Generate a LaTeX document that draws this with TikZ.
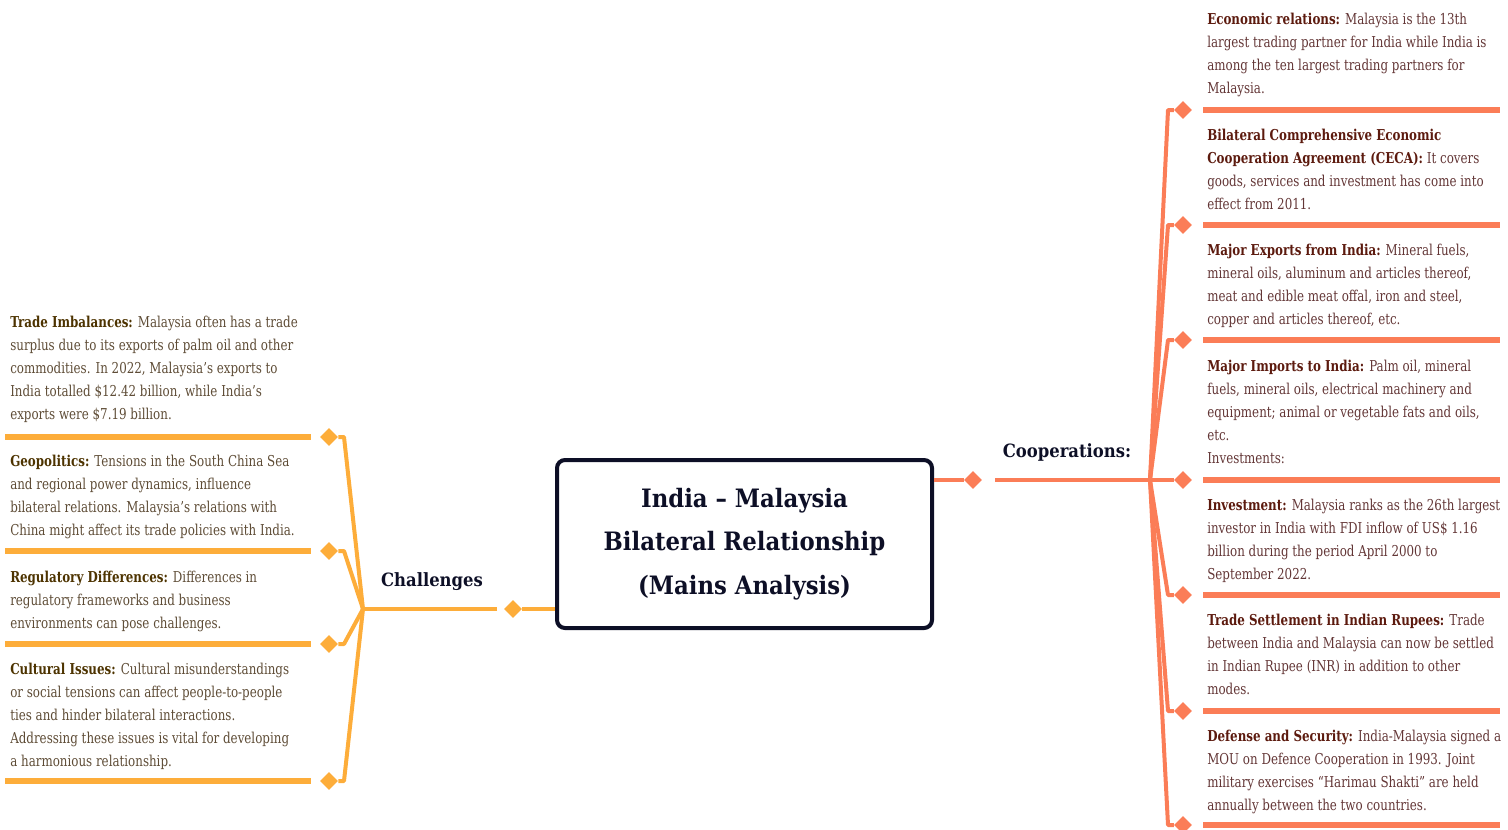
\documentclass[tikz,border=0pt]{standalone}
\usepackage{fontspec}
\usetikzlibrary{shapes.geometric}
\newfontfamily\bodyfont[FakeStretch=0.88]{DejaVu Serif Condensed}
\newfontfamily\titlefont{DejaVu Serif Condensed}
\definecolor{orangeL}{HTML}{FDAD3A}
\definecolor{coralR}{HTML}{FB7D57}
\definecolor{navy}{HTML}{0D0F26}
\definecolor{headL}{HTML}{4D3300}
\definecolor{bodyL}{HTML}{5E4C36}
\definecolor{headR}{HTML}{5C1A0E}
\definecolor{bodyR}{HTML}{633636}
\newcommand{\hdL}[1]{{\bfseries\color{headL}#1}}
\newcommand{\hdR}[1]{{\bfseries\color{headR}#1}}
\tikzset{
  txtL/.style={anchor=north west, inner sep=0pt, align=left, text=bodyL,
    font={\bodyfont\fontsize{11.25}{17.25}\selectfont}},
  txtR/.style={anchor=north west, inner sep=0pt, align=left, text=bodyR,
    font={\bodyfont\fontsize{11.25}{17.25}\selectfont}},
  dmL/.style={diamond, fill=orangeL, inner sep=0pt, minimum size=13.5pt},
  dmR/.style={diamond, fill=coralR, inner sep=0pt, minimum size=13.5pt},
  brL/.style={draw=orangeL, line width=3pt, line join=round},
  brR/.style={draw=coralR, line width=3pt, line join=round},
  ulL/.style={draw=orangeL, line width=4pt},
  ulR/.style={draw=coralR, line width=4pt},
  lbl/.style={inner sep=0pt, text=navy, font={\titlefont\bfseries\fontsize{13.7}{16}\selectfont}},
}
\begin{document}
\begin{tikzpicture}[x=0.75pt,y=-0.75pt]
\useasboundingbox (0,0) rectangle (1508,829);
% central box
\node[draw=navy, line width=3pt, rounded corners=6pt, minimum width=375*0.75pt, minimum height=168*0.75pt,
  inner sep=0pt, align=center, text=navy, font={\titlefont\bfseries\fontsize{19}{32.5}\selectfont}]
  (center) at (744.5,544) {India – Malaysia\\Bilateral Relationship\\(Mains Analysis)};

% ---------- left: Challenges ----------
\node[dmL] (dC) at (513,609) {};
\coordinate (cStart) at (497,609);
\coordinate (JL) at (363,609);
\draw[brL] (center.west |- dC) -- (dC);
\draw[brL] (cStart) -- (JL);
\node[lbl] (challenges) at (432,582) {Challenges};

\foreach \n/\y in {1/437,2/551,3/644,4/781}{
  \node[dmL] (dL\n) at (329,\y) {};
  \coordinate (bL\n) at (344,\y);
  \coordinate (uLa\n) at (5,\y);
  \coordinate (uLb\n) at (311,\y);
  \draw[brL] (JL) -- (bL\n) -- (dL\n.east);
  \draw[ulL] (uLa\n) -- (uLb\n);
}

\node[txtL] (tL1) at (10,316) {\hdL{Trade Imbalances:} Malaysia often has a trade\\surplus due to its exports of palm oil and other\\commodities. In 2022, Malaysia’s exports to\\India totalled \$12.42 billion, while India’s\\exports were \$7.19 billion.};
\node[txtL] (tL2) at (10,455) {\hdL{Geopolitics:} Tensions in the South China Sea\\and regional power dynamics, influence\\bilateral relations. Malaysia’s relations with\\China might affect its trade policies with India.};
\node[txtL] (tL3) at (10,571) {\hdL{Regulatory Differences:} Differences in\\regulatory frameworks and business\\environments can pose challenges.};
\node[txtL] (tL4) at (10,663) {\hdL{Cultural Issues:} Cultural misunderstandings\\or social tensions can affect people-to-people\\ties and hinder bilateral interactions.\\Addressing these issues is vital for developing\\a harmonious relationship.};

% ---------- right: Cooperations ----------
\node[dmR] (dK) at (973,480) {};
\coordinate (kStart) at (995,480);
\coordinate (JR) at (1150,480);
\draw[brR] (center.east |- dK) -- (dK);
\draw[brR] (kStart) -- (JR);
\node[lbl] (coop) at (1067,452) {Cooperations:};

\foreach \n/\y in {1/110,2/225,3/340,4/480,5/595,6/711,7/825}{
  \node[dmR] (dR\n) at (1183,\y) {};
  \coordinate (bR\n) at (1168,\y);
  \coordinate (uRa\n) at (1203,\y);
  \coordinate (uRb\n) at (1500,\y);
  \draw[brR] (JR) -- (bR\n) -- (dR\n.west);
  \draw[ulR] (uRa\n) -- (uRb\n);
}

\node[txtR] (tR1) at (1207,13) {\hdR{Economic relations:} Malaysia is the 13th\\largest trading partner for India while India is\\among the ten largest trading partners for\\Malaysia.};
\node[txtR] (tR2) at (1207,129) {\hdR{Bilateral Comprehensive Economic}\\\hdR{Cooperation Agreement (CECA):} It covers\\goods, services and investment has come into\\effect from 2011.};
\node[txtR] (tR3) at (1207,244) {\hdR{Major Exports from India:} Mineral fuels,\\mineral oils, aluminum and articles thereof,\\meat and edible meat offal, iron and steel,\\copper and articles thereof, etc.};
\node[txtR] (tR4) at (1207,360) {\hdR{Major Imports to India:} Palm oil, mineral\\fuels, mineral oils, electrical machinery and\\equipment; animal or vegetable fats and oils,\\etc.\\Investments:};
\node[txtR] (tR5) at (1207,499) {\hdR{Investment:} Malaysia ranks as the 26th largest\\investor in India with FDI inflow of US\$ 1.16\\billion during the period April 2000 to\\September 2022.};
\node[txtR] (tR6) at (1207,614) {\hdR{Trade Settlement in Indian Rupees:} Trade\\between India and Malaysia can now be settled\\in Indian Rupee (INR) in addition to other\\modes.};
\node[txtR] (tR7) at (1207,730) {\hdR{Defense and Security:} India-Malaysia signed a\\MOU on Defence Cooperation in 1993. Joint\\military exercises “Harimau Shakti” are held\\annually between the two countries.};
\end{tikzpicture}
\end{document}
